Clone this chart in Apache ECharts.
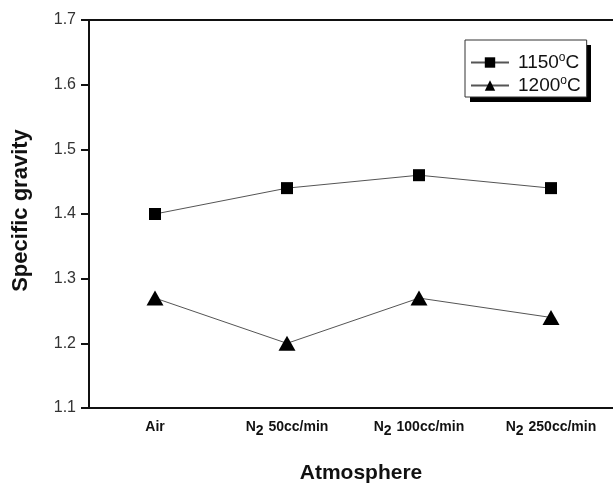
<!DOCTYPE html>
<html>
<head>
<meta charset="utf-8">
<script src="https://cdn.jsdelivr.net/npm/echarts@6/dist/echarts.min.js"></script>
<style>
  html, body { margin: 0; padding: 0; background: #fff; }
  #chart { width: 613px; height: 485px; }
</style>
</head>
<body>
<div id="chart"></div>
<script>
// atmosphere categories
var categories = ['Air', 'N2 50cc/min', 'N2 100cc/min', 'N2 250cc/min'];
// specific gravity per sintering temperature
var gravity1150 = [1.40, 1.44, 1.46, 1.44];
var gravity1200 = [1.27, 1.20, 1.27, 1.24];
var seriesNames = ['1150oC', '1200oC'];

var FONT = '"Liberation Sans", Arial, sans-serif';

var chart = echarts.init(document.getElementById('chart'));

var option = {
  backgroundColor: '#fff',
  animation: false,
  grid: {
    left: 89,
    top: 20,
    width: 528,
    height: 388,
    outerBoundsMode: 'none'
  },
  // drop shadow behind the legend box
  graphic: [
    {
      type: 'rect',
      z: 0,
      shape: { x: 470, y: 45, width: 121, height: 57 },
      style: { fill: '#000' }
    }
  ],
  legend: {
    orient: 'vertical',
    left: 465,
    top: 40,
    z: 10,
    padding: [12, 6, 2, 5],
    itemGap: 3,
    itemWidth: 38,
    itemHeight: 13,
    backgroundColor: '#fff',
    borderColor: '#333',
    borderWidth: 1,
    borderRadius: 0,
    formatter: function (name) {
      return name.replace('oC', '{sup|o}C');
    },
    textStyle: {
      fontFamily: FONT,
      fontSize: 19,
      color: '#111',
      padding: [0, 0, 0, 4],
      rich: {
        sup: { fontFamily: FONT, fontSize: 12, color: '#111', padding: [0, 0, 9, 0] }
      }
    },
    data: seriesNames
  },
  xAxis: [
    {
      type: 'category',
      data: categories,
      boundaryGap: true,
      name: 'Atmosphere',
      nameLocation: 'middle',
      nameGap: 55,
      nameTextStyle: {
        fontFamily: FONT, fontSize: 21, fontWeight: 'bold', color: '#111',
        padding: [0, 0, 0, 16]
      },
      axisLine: { lineStyle: { color: '#111', width: 2 } },
      axisTick: { alignWithLabel: true, inside: true, length: 6, lineStyle: { color: '#111', width: 2 } },
      axisLabel: {
        interval: 0,
        margin: 7,
        lineHeight: 24,
        fontFamily: FONT,
        fontSize: 14,
        fontWeight: 'bold',
        color: '#111',
        formatter: function (v) {
          return v.replace(/^N2/, 'N{sub|2}');
        },
        rich: {
          sub: { fontFamily: FONT, fontSize: 14, fontWeight: 'bold', color: '#111', padding: [9, 1, 0, 0] }
        }
      },
      splitLine: { show: false }
    },
    {
      type: 'category',
      data: categories,
      position: 'top',
      axisLine: { lineStyle: { color: '#111', width: 2 } },
      axisTick: { show: false },
      axisLabel: { show: false },
      splitLine: { show: false }
    }
  ],
  yAxis: {
    type: 'value',
    min: 1.1,
    max: 1.7,
    interval: 0.1,
    name: 'Specific gravity',
    nameLocation: 'middle',
    nameRotate: 90,
    nameGap: 57,
    nameTextStyle: {
      fontFamily: FONT, fontSize: 22, fontWeight: 'bold', color: '#111',
      padding: [0, 0, 0, 7]
    },
    axisLine: { show: true, lineStyle: { color: '#111', width: 2 } },
    axisTick: { show: true, length: 8, lineStyle: { color: '#111', width: 2 } },
    axisLabel: {
      margin: 13,
      fontFamily: FONT,
      fontSize: 16,
      color: '#333',
      formatter: function (v) { return v.toFixed(1); }
    },
    splitLine: { show: false }
  },
  series: [
    {
      name: seriesNames[0],
      type: 'line',
      data: gravity1150,
      symbol: 'rect',
      symbolSize: 12,
      itemStyle: { color: '#000' },
      lineStyle: { color: '#555', width: 1 }
    },
    {
      name: seriesNames[1],
      type: 'line',
      data: gravity1200,
      symbol: 'triangle',
      symbolSize: [17, 15],
      itemStyle: { color: '#000' },
      lineStyle: { color: '#555', width: 1 }
    }
  ]
};

chart.setOption(option);
</script>
</body>
</html>
